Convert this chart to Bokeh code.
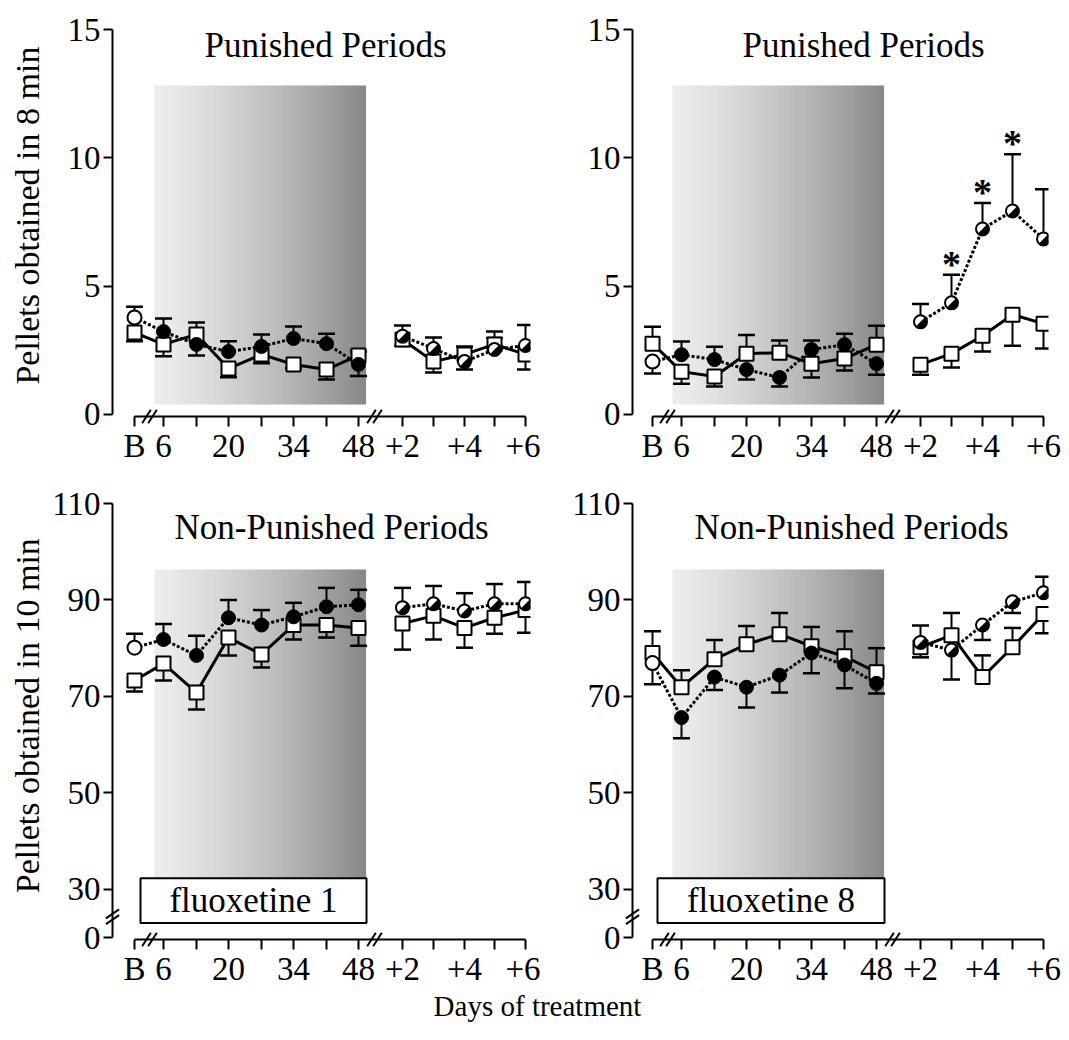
import math
from bokeh.plotting import figure
from bokeh.layouts import column, row
from bokeh.models import FixedTicker, Label, Range1d
from bokeh.embed import file_html
from bokeh.resources import INLINE
from bokeh.core.properties import value

FONT = "Liberation Serif"

# ---------------- data ----------------
days = ["B", "6", "13", "20", "27", "34", "41", "48", "+2", "+3", "+4", "+5", "+6"]
labelled_days = ["B", "6", "20", "34", "48", "+2", "+4", "+6"]

# signed error: + bar drawn upward, - bar drawn downward
# fluoxetine 1 - punished periods
f1_pun_circle = [3.78, 3.23, 2.73, 2.45, 2.65, 2.96, 2.76, 1.95, 3.05, 2.57, 2.06, 2.53, 2.69]
f1_pun_circle_err = [0.42, 0.51, -0.43, 0.40, 0.47, 0.47, 0.39, -0.45, 0.42, 0.43, -0.31, 0.45, 0.80]
f1_pun_square = [3.19, 2.73, 3.12, 1.79, 2.34, 1.95, 1.75, 2.30, 2.92, 2.06, 2.34, 2.73, 2.34]
f1_pun_square_err = [-0.34, -0.46, 0.46, -0.34, -0.34, -0.15, -0.39, 0.15, -0.25, -0.42, 0.31, 0.50, -0.59]

# fluoxetine 8 - punished periods
f8_pun_circle = [2.06, 2.33, 2.14, 1.75, 1.44, 2.53, 2.72, 1.98, 3.61, 4.35, 7.23, 7.93, 6.84]
f8_pun_circle_err = [-0.46, 0.51, 0.50, -0.39, -0.35, 0.35, 0.43, -0.43, 0.70, 1.09, 1.01, 2.21, 1.94]
f8_pun_square = [2.76, 1.67, 1.48, 2.37, 2.41, 1.98, 2.18, 2.72, 1.94, 2.37, 3.07, 3.89, 3.54]
f8_pun_square_err = [0.66, -0.47, -0.39, 0.73, 0.47, -0.54, -0.47, 0.74, -0.39, -0.54, -0.62, -1.21, -0.97]
f8_pun_significant = ["+3", "+4", "+5"]

# fluoxetine 1 - non-punished periods
f1_np_circle = [80.1, 81.8, 78.5, 86.3, 84.8, 86.5, 88.6, 89.0, 88.4, 89.2, 87.7, 89.2, 89.2]
f1_np_circle_err = [2.9, 3.2, 4.1, 3.7, 3.1, 2.9, 3.9, 3.1, 4.1, 3.7, 3.7, 4.1, 4.5]
f1_np_square = [73.3, 76.8, 70.8, 82.2, 78.7, 84.8, 84.8, 84.2, 85.1, 86.7, 84.2, 86.3, 87.9]
f1_np_square_err = [-2.3, -3.5, -3.5, -3.7, -2.7, -3.0, -2.6, -3.7, -5.4, -4.9, -4.1, -3.3, -4.7]

# fluoxetine 8 - non-punished periods
f8_np_circle = [76.9, 65.6, 74.0, 71.9, 74.4, 79.0, 76.5, 72.7, 81.2, 79.6, 84.8, 89.6, 91.5]
f8_np_circle_err = [-4.4, -4.3, -2.7, -4.2, -3.6, -4.2, -4.8, -2.1, 3.5, -6.1, -3.1, -2.3, 3.3]
f8_np_square = [79.0, 71.9, 77.7, 80.8, 82.9, 80.4, 78.3, 75.0, 80.2, 82.7, 74.0, 80.2, 87.1]
f8_np_square_err = [4.5, 3.5, 4.0, 3.8, 4.4, 4.0, 5.2, 5.0, -2.1, 4.6, 4.5, 4.0, -4.0]

pun_ticks = [0, 5, 10, 15]
np_ticks = [0, 30, 50, 70, 90, 110]

# ---------------- layout helpers ----------------
def day_pos(d):
    """horizontal position (px) of a day on the broken time axis"""
    if d == "B":
        return 0
    if d.startswith("+"):
        return int(268 + (int(d[1:]) - 2) * 30.75 + 0.5)
    return int(29 + (int(d) - 6) / 7 * 32.5 + 0.5)

NP_BREAK_ZERO = 20  # plotted position of the value 0 below the y-axis break


def np_y(v):
    return NP_BREAK_ZERO if v == 0 else v


def gray(t):
    g = int(237 - 100 * t ** 1.3)
    return "#%02x%02x%02x" % (g, g, g)


def make_panel(col, top, circ, circ_err, sq, sq_err, title, title_x, ylabel=None,
               box_text=None, stars=None):
    if col == 0:
        w, mbl, mbr, x0 = 540, 112, 10, -22
    else:
        w, mbl, mbr, x0 = 529, 92, 21, -20
    frame_w = w - mbl - mbr
    if top:
        h, mbt, mbb = 470, 29, 54
        yr = Range1d(-0.078, 15)
        ticks = pun_ticks
        ymap = lambda v: v
        shade = (12.82, 0.39)
        title_y = 14.38
        ylabel_y = 7.75
    else:
        h, mbt, mbb = 519, 33, 49
        yr = Range1d(19.586, 110)
        ticks = np_ticks
        ymap = np_y
        shade = (96.3, 32.3)
        title_y = 105.0
        ylabel_y = 66.0

    p = figure(width=w, height=h, x_range=Range1d(x0, x0 + frame_w), y_range=yr,
               output_backend="svg", toolbar_location=None,
               min_border_left=mbl, min_border_right=mbr,
               min_border_top=mbt, min_border_bottom=mbb)
    p.outline_line_color = None
    p.grid.grid_line_color = None
    p.background_fill_color = "white"
    p.border_fill_color = "white"

    # shaded treatment period (gradient)
    n = 70
    sx0, sx1 = 20, 231
    lefts = [sx0 + (sx1 - sx0) * i / n for i in range(n)]
    rights = [sx0 + (sx1 - sx0) * (i + 1) / n + 0.6 for i in range(n)]
    cols = [gray((i + 0.5) / n) for i in range(n)]
    p.quad(left=lefts, right=rights, top=[shade[0]] * n, bottom=[shade[1]] * n,
           fill_color=cols, line_color=None)

    xs = [day_pos(d) for d in days]
    yc = [ymap(v) for v in circ]
    ys = [ymap(v) for v in sq]
    treat = slice(0, 8)
    post = slice(8, 13)

    # lines
    for s in (treat, post):
        p.line(xs[s], ys[s], line_color="black", line_width=3)
        p.line(xs[s], yc[s], line_color="black", line_width=3, line_dash="3 2")

    # error bars
    for yv, ev in ((ys, sq_err), (yc, circ_err)):
        ends = [a + b for a, b in zip(yv, ev)]
        p.segment(x0=xs, y0=yv, x1=xs, y1=ends, line_color="black", line_width=2)
        p.scatter(xs, ends, marker="dash", size=17, line_color="black", line_width=2.5)

    # markers
    p.scatter(xs, ys, marker="square", size=14, fill_color="white",
              line_color="black", line_width=2)
    p.scatter(xs[0:1], yc[0:1], marker="circle", size=14, fill_color="white",
              line_color="black", line_width=2)
    p.scatter(xs[1:8], yc[1:8], marker="circle", size=14, fill_color="black",
              line_color="black", line_width=1)
    p.scatter(xs[post], yc[post], marker="circle", size=13, fill_color="white",
              line_color="black", line_width=2)
    p.wedge(xs[post], yc[post], radius=6.5, radius_units="screen",
            start_angle=-3 * math.pi / 4, end_angle=math.pi / 4,
            fill_color="black", line_color=None)

    if stars:
        idx = [days.index(d) for d in stars]
        sx = [xs[i] for i in idx]
        sy = [yc[i] + circ_err[i] for i in idx]
        p.text(sx, sy, text=["*"] * len(idx), text_font=value(FONT),
               text_font_size="38px", text_font_style="bold", text_align="center",
               text_baseline="middle", y_offset=-11, text_color="black")

    # fluoxetine box
    if box_text:
        bl, br, bb, bt = 6 if col == 0 else 5, 232, 23.0, 32.3
        p.quad(left=[bl], right=[br], bottom=[bb], top=[bt], fill_color="white",
               line_color="black", line_width=2)
        p.add_layout(Label(x=(bl + br) / 2, y=(bb + bt) / 2, text=box_text,
                           text_font=FONT, text_font_size="35px", text_align="center",
                           text_baseline="middle", text_color="black"))

    # title
    p.add_layout(Label(x=title_x, y=title_y, text=title, text_font=FONT,
                       text_font_size="35px", text_align="center",
                       text_baseline="middle", text_color="black"))

    # y axis title (placed in the left border, drawn unclipped)
    if ylabel:
        p.text([x0 - 85], [ylabel_y], text=[ylabel], angle=math.pi / 2,
               text_font=value(FONT), text_font_size="34px", text_align="center",
               text_baseline="middle", text_color="black", level="overlay")

    # axes
    xa = p.xaxis[0]
    xa.ticker = FixedTicker(ticks=xs)
    xa.major_label_overrides = {day_pos(d): (d if d in labelled_days else "") for d in days}
    xa.bounds = (day_pos("B"), day_pos("+6"))
    ya = p.yaxis[0]
    ya.ticker = FixedTicker(ticks=[ymap(t) for t in ticks])
    ya.major_label_overrides = {ymap(t): str(t) for t in ticks}
    ya.bounds = (ymap(ticks[0]), ymap(ticks[-1]))
    for ax in (xa, ya):
        ax.minor_tick_line_color = None
        ax.major_tick_in = 0
        ax.axis_line_width = 2
        ax.major_tick_line_width = 2
        ax.axis_line_color = "black"
        ax.major_tick_line_color = "black"
        ax.major_label_text_font = FONT
        ax.major_label_text_font_size = "33px"
        ax.major_label_text_color = "black"
    xa.major_tick_out = 10
    xa.major_label_standoff = 1
    ya.major_tick_out = 9
    ya.major_label_standoff = 3

    # axis breaks
    yb = yr.start
    p.scatter([12, 18, 237, 243], [yb] * 4, marker="dash", size=16, angle=1.0,
              line_color="black", line_width=2, level="overlay")
    if not top:
        p.scatter([x0, x0], [23.7, 24.9], marker="dash", size=16, angle=0.6,
                  line_color="black", line_width=2, level="overlay")
    return p


p1 = make_panel(0, True, f1_pun_circle, f1_pun_circle_err, f1_pun_square, f1_pun_square_err,
                "Punished Periods", 191, ylabel="Pellets obtained in 8 min")
p2 = make_panel(1, True, f8_pun_circle, f8_pun_circle_err, f8_pun_square, f8_pun_square_err,
                "Punished Periods", 211, stars=f8_pun_significant)
p3 = make_panel(0, False, f1_np_circle, f1_np_circle_err, f1_np_square, f1_np_square_err,
                "Non-Punished Periods", 197, ylabel="Pellets obtained in 10 min",
                box_text="fluoxetine 1")
p4 = make_panel(1, False, f8_np_circle, f8_np_circle_err, f8_np_square, f8_np_square_err,
                "Non-Punished Periods", 199, box_text="fluoxetine 8")

px = figure(width=1069, height=42, x_range=Range1d(0, 1069), y_range=Range1d(0, 42),
            output_backend="svg", toolbar_location=None, x_axis_type=None, y_axis_type=None,
            min_border=0)
px.outline_line_color = None
px.grid.grid_line_color = None
px.text([537], [26], text=["Days of treatment"], text_font=value(FONT),
        text_font_size="29px", text_align="center", text_baseline="middle",
        text_color="black")

layout = column(row(p1, p2), row(p3, p4), px)
open("out.html", "w").write(file_html(layout, INLINE))
